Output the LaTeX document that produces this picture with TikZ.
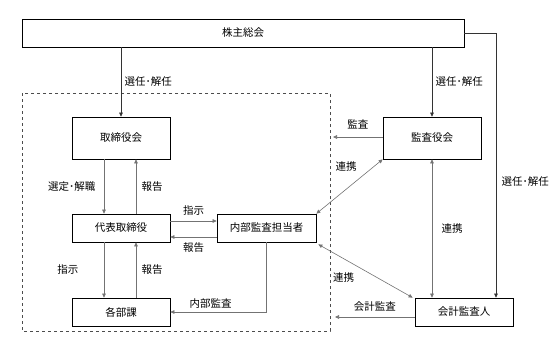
\documentclass[tikz,border=0pt]{standalone}
\usepackage{fontspec}
\newfontfamily\jpfont{Noto Sans CJK JP}
\usepackage{tikz}
\usetikzlibrary{arrows.meta,positioning}

\begin{document}
\begin{tikzpicture}[x=1pt,y=-1pt,>={Triangle[length=4pt,width=3.6pt]},
  every node/.style={font=\jpfont\fontsize{10.5}{12}\selectfont},
  box/.style={draw,line width=.7pt,minimum width=98pt,minimum height=28pt,inner sep=0pt},
  tall/.style={box,minimum height=42pt},
  arr/.style={->,line width=.6pt,draw=black!55},
  both/.style={<->,line width=.6pt,draw=black!55}]
\useasboundingbox (0,0) rectangle (558,341);
\node[box,minimum width=442pt] (gm) at (243,33) {株主総会};
\node[tall] (bod) at (121,138) {取締役会};
\node[box] (ceo) at (121,228) {代表取締役};
\node[box] (dept) at (121,312) {各部課};
\node[box,minimum width=99pt] (ia) at (266.5,228) {内部監査担当者};
\node[tall] (asb) at (432,138) {監査役会};
\node[box] (acc) at (464,312) {会計監査人};
\draw[dashed,line width=.6pt,draw=black!70] (22,93) rectangle (330,331);
\coordinate (asbto) at (333,137);
\coordinate (accto) at (335,317);
% election by shareholders
\draw[arr,draw=black!80] (gm.south -| bod) -- (bod.north) node[midway,right] {選任･解任};
\draw[arr,draw=black!80] (gm.south -| asb) -- (asb.north) node[midway,right] {選任･解任};
\draw[arr,draw=black!80] (gm.east) -| ([xshift=32pt]acc.north) node[pos=.78,right=2pt] {選任･解任};
% inside
\draw[arr] ([xshift=-17pt]bod.south) -- ([xshift=-17pt]ceo.north) node[midway,left=5pt] {選定･解職};
\draw[arr] ([xshift=15pt]ceo.north) -- ([xshift=15pt]bod.south) node[midway,right=2pt] {報告};
\draw[arr] ([yshift=7pt]ceo.east) -- ([yshift=7pt]ia.west) node[midway,above=2pt] {指示};
\draw[arr] ([yshift=-9pt]ia.west) -- ([yshift=-9pt]ceo.east) node[midway,below=2pt] {報告};
\draw[arr] ([xshift=-17pt]ceo.south) -- ([xshift=-17pt]dept.north) node[midway,left=22pt] {指示};
\draw[arr] ([xshift=15pt]dept.north) -- ([xshift=15pt]ceo.south) node[midway,right=2pt] {報告};
\draw[arr] (ia.south) |- (dept.east) node[pos=.79,above=0pt] {内部監査};
% audit
\draw[arr] (asb.west |- asbto) -- (asbto) node[midway,above=4pt] {監査};
\draw[both] (asb.south west) -- (ia.north east) node[pos=.14,left=13pt] {連携};
\draw[both] (asb.south) -- (asb.south |- acc.north) node[midway,right=6pt] {連携};
\draw[both] ([xshift=2pt,yshift=-2pt]ia.south east) -- ([xshift=-2pt]acc.north west) node[pos=.62,left=19pt] {連携};
\draw[arr] (acc.west |- accto) -- (accto) node[midway,above=2pt] {会計監査};
\end{tikzpicture}
\end{document}
